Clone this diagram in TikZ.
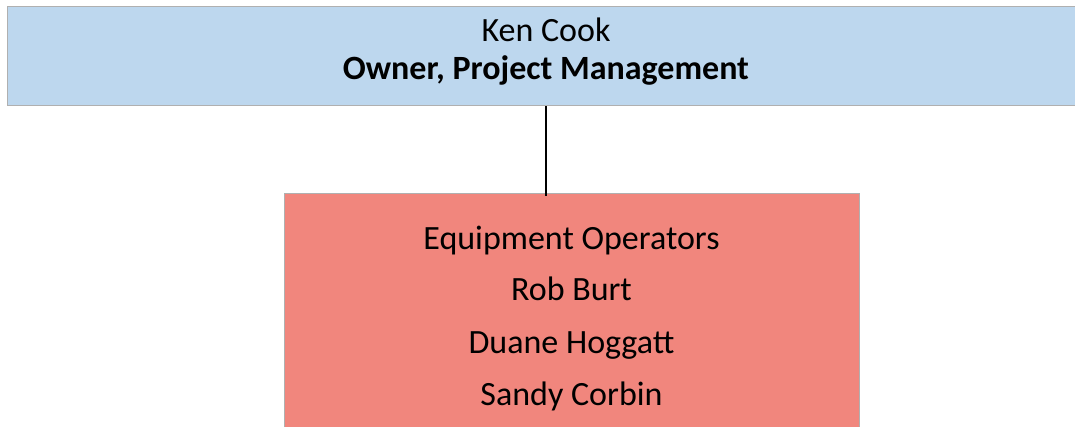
\documentclass[tikz,border=0pt]{standalone}
\usepackage{fontspec}
\setmainfont{Carlito}
\definecolor{bossblue}{RGB}{189,215,238}
\definecolor{crewred}{RGB}{241,134,125}
\definecolor{edgegray}{RGB}{176,176,176}
\tikzset{
    orgbox/.style={draw=edgegray, line width=0.75pt, inner sep=0pt},
    orgtext/.style={anchor=base, inner sep=0pt, font=\fontsize{25.5pt}{30pt}\selectfont}
}
\begin{document}
\begin{tikzpicture}[x=0.75pt, y=-0.75pt]
    \useasboundingbox (0,0) rectangle (1075,427);

    \node [orgbox, fill=bossblue, minimum width=808.5pt, minimum height=74.25pt] (boss) at (546,56.5) {};
    \node [orgbox, fill=crewred, minimum width=431.25pt, minimum height=207pt] (crew) at (571.5,332) {};

    \node [orgtext] (bossname) at (546,42) {Ken Cook};
    \node [orgtext, font=\fontsize{25.5pt}{30pt}\selectfont\bfseries] (bossrole) at (546,80) {Owner, Project Management};

    \node [orgtext] (crewrole) at (571.5,250) {Equipment Operators};
    \node [orgtext] (crewa) at (571.5,301) {Rob Burt};
    \node [orgtext] (crewb) at (571.5,354) {Duane Hoggatt};
    \node [orgtext] (crewc) at (571.5,406) {Sandy Corbin};

    \draw [line width=0.9pt] (boss.south) -- ([yshift=-2.25pt]boss.south |- crew.north);
\end{tikzpicture}
\end{document}
